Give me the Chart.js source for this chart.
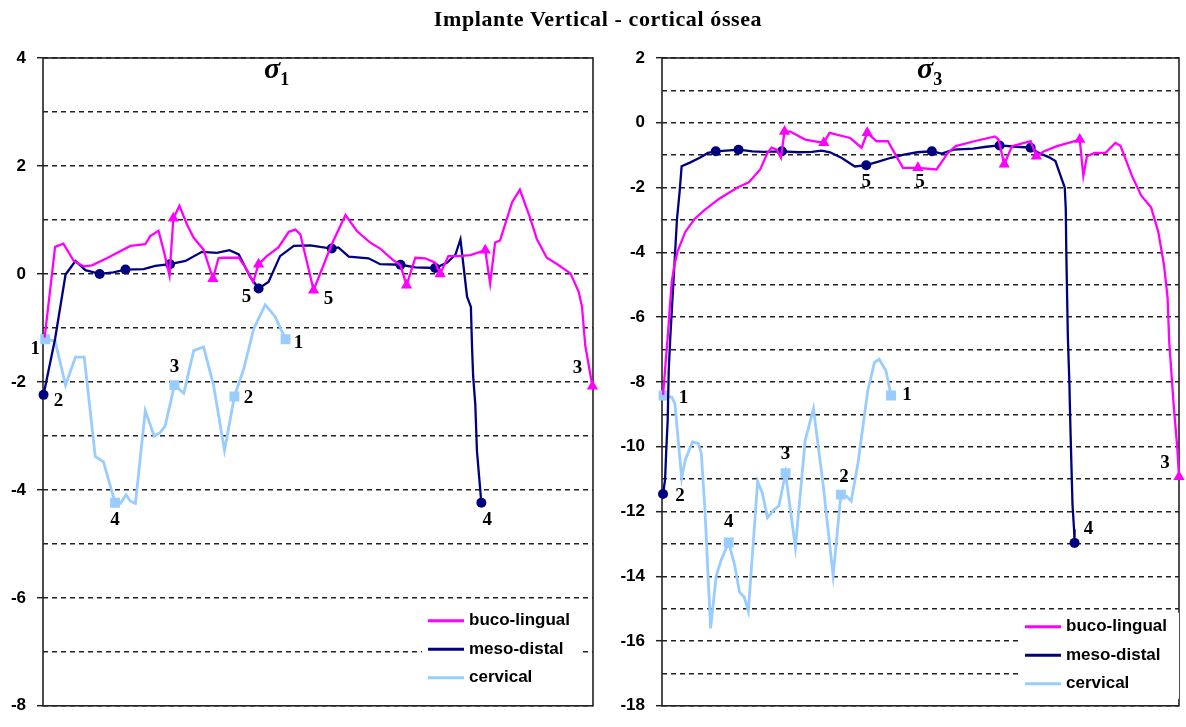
<!DOCTYPE html>
<html>
<head>
<meta charset="utf-8">
<title>Implante Vertical - cortical óssea</title>
<script src="https://cdn.jsdelivr.net/npm/chart.js@4.4.1/dist/chart.umd.min.js"></script>
<style>
  body { margin: 0; background: #fff; }
  #wrap { position: relative; width: 1186px; height: 727px; overflow: hidden; }
  #titulo {
    position: absolute; left: 0; top: 6px; width: 1196px; z-index: 2;
    text-align: center; font: bold 22px "Liberation Serif", "Times New Roman", serif;
    letter-spacing: 0.6px; color: #000;
  }
  canvas { position: absolute; top: 0; }
  #graf1 { left: 0; }
  #graf3 { left: 600px; }
</style>
</head>
<body>
<div id="wrap">
  <div id="titulo">Implante Vertical - cortical óssea</div>
  <canvas id="graf1" width="600" height="727"></canvas>
  <canvas id="graf3" width="586" height="727"></canvas>
</div>
<script>
// nomes e cores das séries
const seriesNames = ['buco-lingual', 'meso-distal', 'cervical'];
const seriesColors = ['#ff00ff', '#000080', '#99ccff'];
const seriesMarkers = ['triangle', 'circle', 'rect'];
const markerSizes = [6.5, 5, 7];
const lineWidths = [2.3, 2.3, 2.8];

// σ1 - posição ao longo do percurso (0-100) e tensão
const s1BucoX = [0.3, 2.2, 3.7, 5.6, 7.4, 8.9, 11.6, 15.9, 18.6, 19.5, 21.0, 21.9, 23.0, 23.7, 24.8, 26.2, 27.4, 29.2, 30.9, 31.9,
  32.8, 35.6, 36.8, 38.2, 39.2, 40.7, 42.8, 44.7, 45.9, 46.8, 49.2, 52.5, 55.0, 57.1, 59.5, 61.3, 63.5, 65.0, 66.1, 67.7,
  69.5, 71.3, 72.2, 73.7, 75.6, 77.7, 80.4, 81.3, 82.2, 83.1, 85.3, 86.7, 88.6, 89.8, 91.6, 93.5, 95.9, 97.4, 98.0, 98.6, 99.9];
const s1BucoY = [-1.18, 0.50, 0.56, 0.24, 0.14, 0.16, 0.29, 0.52, 0.55, 0.70, 0.80, 0.45, -0.03, 1.03, 1.26, 0.91, 0.67, 0.45, -0.09, 0.29,
  0.30, 0.30, 0.12, -0.15, 0.18, 0.33, 0.49, 0.78, 0.82, 0.73, -0.30, 0.55, 1.09, 0.79, 0.58, 0.47, 0.27, 0.16, -0.21, 0.30,
  0.29, 0.21, 0.0, 0.33, 0.33, 0.35, 0.44, -0.18, 0.58, 0.62, 1.33, 1.56, 1.03, 0.64, 0.30, 0.18, 0.01, -0.33, -0.61, -1.33, -2.08];
const s1MesoX = [0.1, 2.2, 4.1, 5.9, 7.7, 10.3, 12.8, 15.0, 18.3, 20.4, 23.1, 25.9, 28.9, 31.6, 33.9, 35.6, 37.7, 39.2, 41.0, 43.1,
  45.6, 48.6, 50.4, 52.5, 53.7, 55.6, 59.2, 61.3, 65.0, 67.7, 71.3, 73.5, 75.0, 75.9, 77.1, 77.8, 78.0, 78.2, 78.6, 78.9, 79.7];
const s1MesoY = [-2.24, -1.20, -0.01, 0.24, 0.07, 0.0, 0.03, 0.08, 0.09, 0.15, 0.18, 0.24, 0.41, 0.39, 0.44, 0.36, -0.06, -0.27, -0.15, 0.33,
  0.52, 0.53, 0.50, 0.47, 0.49, 0.32, 0.29, 0.18, 0.17, 0.12, 0.11, 0.21, 0.36, 0.64, -0.42, -0.61, -1.33, -1.88, -2.42, -3.28, -4.24];
const s1CervX = [0.4, 2.2, 4.1, 5.9, 7.5, 9.5, 11.0, 13.1, 14.1, 15.1, 15.9, 16.8, 18.6, 20.2, 21.3, 22.2, 23.9, 25.6, 27.4, 29.2,
  31.0, 33.0, 34.8, 36.5, 38.3, 40.4, 42.2, 44.1];
const s1CervY = [-1.21, -1.24, -2.06, -1.54, -1.54, -3.38, -3.48, -4.24, -4.25, -4.09, -4.21, -4.25, -2.53, -3.0, -2.94, -2.82, -2.06, -2.21, -1.42, -1.35,
  -2.06, -3.27, -2.27, -1.76, -1.02, -0.57, -0.79, -1.21];
// pontos com marcador (índices) para buco, meso, cervical
const s1Markers = [[13, 18, 24, 30, 38, 42, 46, 60], [0, 5, 7, 10, 17, 23, 28, 30, 40], [0, 7, 16, 22, 27]];
// rótulos numéricos: [série, ponto, texto]
const s1Labels = [[2, 0, '1'], [1, 0, '2'], [2, 7, '4'], [2, 16, '3'], [2, 22, '2'], [2, 27, '1'],
  [1, 17, '5'], [0, 30, '5'], [1, 40, '4'], [0, 60, '3']];

// σ3
const s3BucoX = [0.2, 1.2, 1.5, 1.9, 2.4, 3.0, 4.5, 6.3, 8.1, 11.0, 14.6, 16.8, 19.0, 20.4, 21.2, 22.2, 23.0, 23.7, 24.8, 27.7,
  31.3, 32.4, 36.4, 38.6, 39.7, 41.5, 43.7, 46.6, 49.5, 53.1, 55.3, 56.8, 60.4, 64.4, 65.1, 66.2, 67.7, 71.3, 72.4, 73.9,
  76.4, 80.8, 81.5, 82.2, 83.7, 85.8, 87.7, 88.7, 90.9, 92.7, 94.6, 96.0, 97.1, 97.8, 98.1, 99.0, 99.7, 100];
const s3BucoY = [-8.4, -6.42, -5.72, -4.90, -4.39, -3.98, -3.37, -2.97, -2.71, -2.35, -2.0, -1.84, -1.44, -0.93, -0.77, -0.83, -1.08, -0.27, -0.27, -0.52,
  -0.62, -0.31, -0.47, -0.77, -0.31, -0.57, -0.57, -1.39, -1.39, -1.44, -0.93, -0.72, -0.57, -0.42, -0.52, -1.28, -0.72, -0.57, -1.03, -0.88,
  -0.72, -0.52, -1.64, -1.03, -0.93, -0.93, -0.62, -0.72, -1.64, -2.25, -2.61, -3.37, -4.39, -5.41, -6.74, -8.78, -10.1, -10.93];
const s3MesoX = [0.2, 0.6, 0.8, 1.1, 1.3, 1.6, 2.9, 3.4, 3.8, 5.4, 7.3, 8.9, 10.4, 13.1, 14.8, 17.5, 19.7, 23.2, 26.4, 29.0,
  30.9, 32.5, 34.7, 37.3, 39.5, 41.7, 44.3, 46.8, 49.4, 52.2, 54.1, 56.4, 60.2, 62.7, 65.3, 68.5, 71.3, 72.9, 74.8, 76.1,
  77.1, 77.9, 78.1, 78.2, 78.5, 78.8, 79.0, 79.4, 79.7, 79.8];
const s3MesoY = [-11.46, -11.01, -10.2, -9.18, -7.65, -6.64, -2.97, -2.15, -1.34, -1.23, -1.08, -0.93, -0.88, -0.85, -0.83, -0.88, -0.90, -0.88, -0.91, -0.90,
  -0.86, -0.91, -1.08, -1.35, -1.31, -1.21, -1.08, -0.98, -0.91, -0.88, -0.95, -0.83, -0.80, -0.74, -0.70, -0.74, -0.77, -0.93, -1.06, -1.18,
  -1.64, -2.0, -2.66, -3.98, -6.58, -8.06, -9.44, -11.78, -12.55, -12.97];
const s3CervX = [0.3, 1.9, 2.5, 3.8, 4.5, 5.9, 7.0, 7.6, 8.3, 9.4, 10.5, 11.5, 12.9, 14.0, 15.0, 15.9, 16.7, 18.5, 19.4, 20.4,
  21.7, 22.6, 23.9, 25.8, 27.7, 29.3, 31.2, 33.1, 34.6, 35.7, 36.6, 37.9, 39.8, 41.1, 42.0, 43.3, 44.3];
const s3CervY = [-8.42, -8.47, -8.68, -10.97, -10.41, -9.85, -9.90, -10.2, -11.94, -15.61, -13.98, -13.47, -12.96, -13.62, -14.49, -14.64, -15.08, -11.07, -11.43, -12.19,
  -11.94, -11.83, -10.82, -13.11, -9.80, -8.83, -11.22, -13.98, -11.48, -11.53, -11.68, -10.51, -8.27, -7.40, -7.30, -7.65, -8.42];
const s3Markers = [[17, 20, 24, 28, 35, 38, 41, 57], [0, 12, 14, 17, 24, 29, 34, 36, 49], [0, 12, 22, 28, 36]];
const s3Labels = [[2, 0, '1'], [1, 0, '2'], [2, 12, '4'], [2, 22, '3'], [2, 28, '2'], [2, 36, '1'],
  [1, 24, '5'], [0, 28, '5'], [1, 49, '4'], [0, 57, '3']];

// deslocamento (px) de cada rótulo em relação ao seu ponto
const s1LabelOffsets = [[-10, 10], [15, 6], [0, 17], [0, -18], [14, 2], [13, 4], [-12, 9], [15, 9], [6, 17], [-15, -18]];
const s3LabelOffsets = [[20, 3], [17, 2], [0, -20], [0, -19], [3, -18], [16, 0], [0, 17], [2, 14], [14, -14], [-14, -14]];

function toPoints(xs, ys) {
  return xs.map((x, i) => ({ x: x, y: ys[i] }));
}

// moldura, legenda, símbolo σ e rótulos dos pontos
const panelExtras = {
  id: 'panelExtras',
  beforeDatasetsDraw(chart, args, opts) {
    const ctx = chart.ctx;
    const a = chart.chartArea;
    ctx.save();
    ctx.strokeStyle = '#222';
    ctx.lineWidth = 1.6;
    ctx.strokeRect(a.left, a.top, a.right - a.left, a.bottom - a.top);

    const bw = 160, bh = 86;
    const bx = a.right - opts.legendRight - bw;
    const by = a.bottom - opts.legendBottom - bh;
    ctx.fillStyle = '#fff';
    ctx.fillRect(bx, by, bw, bh);
    ctx.font = 'bold 17px "Liberation Sans", Arial, sans-serif';
    ctx.textBaseline = 'middle';
    ctx.textAlign = 'left';
    seriesNames.forEach((name, i) => {
      const y = by + 14 + i * 28.5;
      ctx.strokeStyle = seriesColors[i];
      ctx.lineWidth = 3;
      ctx.beginPath();
      ctx.moveTo(bx + 6, y);
      ctx.lineTo(bx + 42, y);
      ctx.stroke();
      ctx.fillStyle = '#000';
      ctx.fillText(name, bx + 47, y);
    });
    ctx.restore();
  },
  afterDatasetsDraw(chart, args, opts) {
    const ctx = chart.ctx;
    const a = chart.chartArea;
    ctx.save();
    ctx.fillStyle = '#000';
    ctx.textBaseline = 'alphabetic';
    ctx.textAlign = 'left';
    ctx.font = 'italic bold 30px "Liberation Serif", "Times New Roman", serif';
    const sx = a.left + opts.sigmaX;
    ctx.fillText('σ', sx, a.top + 20);
    const w = ctx.measureText('σ').width;
    ctx.font = 'bold 18px "Liberation Serif", "Times New Roman", serif';
    ctx.fillText(opts.sigmaSub, sx + w, a.top + 27);

    ctx.font = 'bold 19px "Liberation Serif", "Times New Roman", serif';
    ctx.textAlign = 'center';
    ctx.textBaseline = 'middle';
    opts.labels.forEach((lb, k) => {
      const pt = chart.getDatasetMeta(lb[0]).data[lb[1]];
      const off = opts.offsets[k];
      ctx.fillText(lb[2], pt.x + off[0], pt.y + off[1]);
    });
    ctx.restore();
  }
};

function buildDatasets(series, markers) {
  return series.map((pts, i) => ({
    label: seriesNames[i],
    data: pts,
    borderColor: seriesColors[i],
    backgroundColor: seriesColors[i],
    borderWidth: lineWidths[i],
    tension: 0,
    pointStyle: seriesMarkers[i],
    pointBackgroundColor: seriesColors[i],
    pointBorderColor: seriesColors[i],
    pointBorderWidth: 0,
    pointRadius: (c) => markers[i].includes(c.dataIndex) ? markerSizes[i] : 0,
    pointHoverRadius: 0,
    clip: 10
  }));
}

function buildChart(id, series, markers, yMin, yMax, axisWidth, padding, extras) {
  new Chart(document.getElementById(id), {
    type: 'line',
    data: { datasets: buildDatasets(series, markers) },
    options: {
      responsive: false,
      animation: false,
      events: [],
      layout: { padding: padding },
      plugins: {
        legend: { display: false },
        tooltip: { enabled: false },
        panelExtras: extras
      },
      scales: {
        x: { type: 'linear', min: 0, max: 100, display: false },
        y: {
          min: yMin,
          max: yMax,
          afterFit: (s) => { s.width = axisWidth; },
          border: { display: false, dash: [5, 4] },
          grid: {
            color: '#222',
            lineWidth: 1.4,
            tickLength: 6,
            tickColor: (c) => (c.tick && Math.abs(c.tick.value) % 2 === 0) ? '#222' : 'rgba(0,0,0,0)',
            tickWidth: 1.5
          },
          ticks: {
            stepSize: 1,
            autoSkip: false,
            padding: 11,
            color: '#000',
            font: { family: '"Liberation Sans", Arial, sans-serif', weight: 'bold', size: 17 },
            callback: (v) => (Math.abs(v) % 2 === 0 ? String(v) : '')
          }
        }
      }
    },
    plugins: [panelExtras]
  });
}

buildChart('graf1',
  [toPoints(s1BucoX, s1BucoY), toPoints(s1MesoX, s1MesoY), toPoints(s1CervX, s1CervY)],
  s1Markers, -8, 4, 43,
  { top: 58, bottom: 11, left: 0, right: 7 },
  { sigmaX: 221, sigmaSub: '1', legendRight: 11, legendBottom: 13, labels: s1Labels, offsets: s1LabelOffsets });

buildChart('graf3',
  [toPoints(s3BucoX, s3BucoY), toPoints(s3MesoX, s3MesoY), toPoints(s3CervX, s3CervY)],
  s3Markers, -18, 2, 62,
  { top: 58, bottom: 15, left: 0, right: 1 },
  { sigmaX: 255, sigmaSub: '3', legendRight: 0, legendBottom: 7, labels: s3Labels, offsets: s3LabelOffsets });
</script>
</body>
</html>
